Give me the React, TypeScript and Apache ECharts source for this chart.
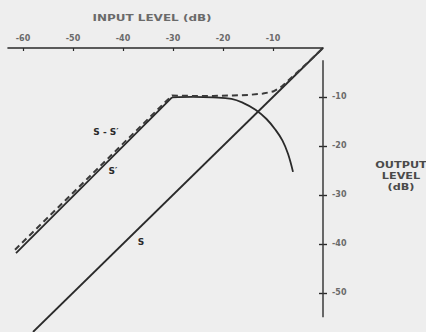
import React, { useEffect, useRef } from "react";
import * as echarts from "echarts";

// Level axis ticks (dB)
const inputTicks = [-60, -50, -40, -30, -20, -10];
const outputTicks = [-10, -20, -30, -40, -50];

// Transfer curves: [input dB, output dB]
const sCurve = [
  [-58, -58],
  [0, 0],
];
const sPrime = [
  [-61.6, -41.2],
  [-30.2, -9.7],
  [-26, -9.8],
  [-22, -9.8],
  [-18, -9.7],
  [-15, -9.6],
  [-12, -9.3],
  [-10, -8.9],
  [-8.3, -7.9],
  [-4, -3.9],
  [0, 0],
];
const sMinusPrimeRamp = [
  [-61.4, -41.9],
  [-30.2, -10.1],
];
const sMinusPrimeArc = [
  [-30.2, -10.1],
  [-26, -10],
  [-22, -10.1],
  [-18.3, -10.4],
  [-16, -11.2],
  [-13.5, -12.6],
  [-11.3, -14.5],
  [-9.5, -16.7],
  [-8.1, -18.9],
  [-7, -21.6],
  [-6, -25.3],
];
// Vertical output scale line extent
const outputScale = [
  [0, -2.5],
  [0, -55],
];

const INK = "#2a2a2a";
const GREY = "#6a6a6a";
const FONT = "DejaVu Sans";

export default function App() {
  const ref = useRef<HTMLDivElement>(null);

  useEffect(() => {
    if (!ref.current) return;
    const chart = echarts.init(ref.current, null, { renderer: "svg" });
    chart.setOption({
      animation: false,
      backgroundColor: "#eeeeee",
      grid: { left: 8, right: 103, top: 48, bottom: 0 },
      xAxis: {
        type: "value",
        position: "top",
        min: -63,
        max: 0,
        splitLine: { show: false },
        axisLine: { show: true, lineStyle: { color: INK, width: 1.6 } },
        axisTick: {
          show: true,
          inside: true,
          length: 3,
          customValues: inputTicks,
          lineStyle: { color: INK, width: 1.2 },
        },
        axisLabel: {
          customValues: inputTicks,
          margin: 6,
          color: GREY,
          fontFamily: FONT,
          fontSize: 8,
          fontWeight: "bold",
        },
      },
      yAxis: [
        {
          type: "value",
          position: "right",
          min: -58,
          max: 0,
          offset: 0,
          splitLine: { show: false },
          axisLine: { show: false },
          axisTick: {
            show: true,
            length: 4,
            customValues: outputTicks,
            lineStyle: { color: INK, width: 1.4 },
          },
          axisLabel: {
            customValues: outputTicks,
            margin: 9,
            color: GREY,
            fontFamily: FONT,
            fontSize: 8,
            fontWeight: "bold",
          },
        },
        {
          type: "value",
          position: "right",
          min: -58,
          max: 0,
          offset: 0,
          splitLine: { show: false },
          axisLine: { show: false },
          axisTick: {
            show: true,
            inside: true,
            length: 4,
            customValues: outputTicks,
            lineStyle: { color: INK, width: 1.4 },
          },
          axisLabel: { show: false },
        },
      ],
      series: [
        {
          name: "output scale",
          type: "line",
          data: outputScale,
          symbol: "none",
          silent: true,
          clip: false,
          lineStyle: { color: "#3a3a3a", width: 1.5 },
        },
        {
          name: "S",
          type: "line",
          data: sCurve,
          symbol: "none",
          clip: false,
          lineStyle: { color: INK, width: 1.8 },
        },
        {
          name: "S − S′",
          type: "line",
          data: sMinusPrimeRamp,
          symbol: "none",
          clip: false,
          lineStyle: { color: INK, width: 1.8 },
        },
        {
          name: "S − S′",
          type: "line",
          data: sMinusPrimeArc,
          symbol: "none",
          smooth: 0.4,
          clip: false,
          lineStyle: { color: INK, width: 1.8 },
        },
        {
          name: "S′",
          type: "line",
          data: sPrime,
          symbol: "none",
          clip: false,
          lineStyle: { color: "#3a3a3a", width: 2, type: [6, 4] },
        },
      ],
      graphic: [
        {
          type: "text",
          x: 152,
          y: 18,
          scaleX: 1.5,
          style: {
            text: "INPUT LEVEL (dB)",
            fill: GREY,
            font: `bold 8px "${FONT}"`,
            align: "center",
            verticalAlign: "middle",
          },
        },
        {
          type: "text",
          x: 401,
          y: 176,
          scaleX: 1.25,
          style: {
            text: "OUTPUT\nLEVEL\n(dB)",
            fill: "#4a4a4a",
            font: `bold 9px "${FONT}"`,
            lineHeight: 11,
            align: "center",
            verticalAlign: "middle",
          },
        },
        {
          type: "text",
          x: 106,
          y: 132,
          style: {
            text: "S - S′",
            fill: INK,
            font: `bold 9px "${FONT}"`,
            align: "center",
            verticalAlign: "middle",
          },
        },
        {
          type: "text",
          x: 113,
          y: 171,
          style: {
            text: "S′",
            fill: INK,
            font: `bold 9px "${FONT}"`,
            align: "center",
            verticalAlign: "middle",
          },
        },
        {
          type: "text",
          x: 141,
          y: 242,
          style: {
            text: "S",
            fill: INK,
            font: `bold 9px "${FONT}"`,
            align: "center",
            verticalAlign: "middle",
          },
        },
      ],
    });
    return () => chart.dispose();
  }, []);

  return (
    <div
      ref={ref}
      style={{ position: "fixed", left: 0, top: 0, width: 426, height: 332 }}
    />
  );
}
